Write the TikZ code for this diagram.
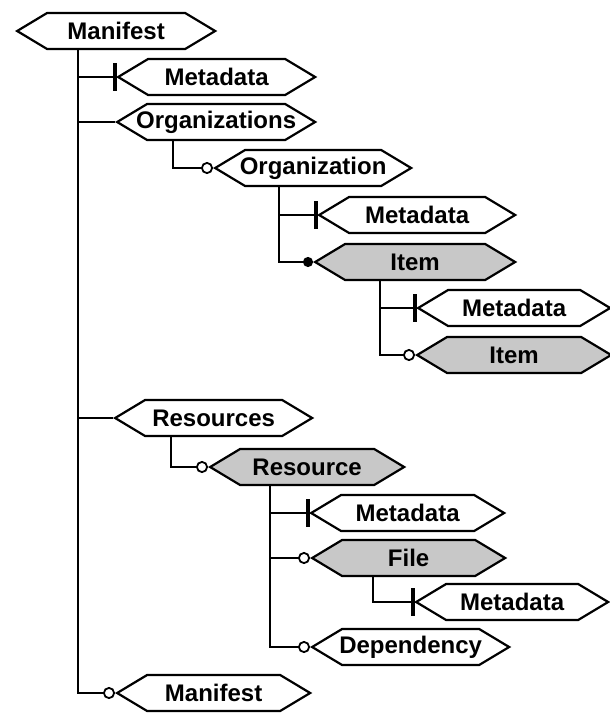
\documentclass[tikz,border=0pt]{standalone}
\usepackage{fontspec}
\setmainfont{Liberation Sans}
\usetikzlibrary{shapes.symbols,arrows.meta}

\definecolor{boxgray}{RGB}{200,200,200}

% label set in a zero-width box so that the outline keeps its given width
\newcommand\lbl[1]{\hbox to 0pt{\hss#1\hss}}

\tikzset{
  elem/.style={shape=signal, signal to=west and east, signal pointer angle=62,
    draw, line width=2.2pt, fill=white, minimum height=36pt, inner sep=0pt,
    anchor=west, font=\bfseries\fontsize{24}{24}\selectfont},
  shaded/.style={elem, fill=boxgray},
  link/.style={line width=2.2pt},
  one/.style={link, -{Bar[width=28pt, line width=4pt]}, shorten >=-1pt},
  opt/.style={link, -{Circle[length=12pt, width=12pt, fill=white, line width=1.8pt]}},
  many/.style={link, -{Circle[length=10pt, width=10pt]}},
}

\begin{document}
\begin{tikzpicture}[x=1pt, y=-1pt]
\useasboundingbox[fill=white] (0,0) rectangle (610,713);

% elements: anchored at their left tip
\node[elem, minimum width=198pt] (root) at (15,31) {\lbl{Manifest}};
\node[elem, minimum width=197pt] (md1) at (116,77) {\lbl{Metadata}};
\node[elem, minimum width=198pt] (orgs) at (115,122) {\lbl{Organizations}};
\node[elem, minimum width=196pt] (org) at (213,168) {\lbl{Organization}};
\node[elem, minimum width=196pt] (md2) at (317,215) {\lbl{Metadata}};
\node[shaded, minimum width=200pt] (item1) at (313,262) {\lbl{Item}};
\node[elem, minimum width=192pt] (md3) at (416,308) {\lbl{Metadata}};
\node[shaded, minimum width=194pt] (item2) at (415,355) {\lbl{Item}};
\node[elem, minimum width=197pt] (res) at (113,418) {\lbl{Resources}};
\node[shaded, minimum width=194pt] (resource) at (208,467) {\lbl{Resource}};
\node[elem, minimum width=193pt] (md4) at (309,513) {\lbl{Metadata}};
\node[shaded, minimum width=193pt] (file) at (310,558) {\lbl{File}};
\node[elem, minimum width=192pt] (md5) at (414,602) {\lbl{Metadata}};
\node[elem, minimum width=197pt] (dep) at (310,647) {\lbl{Dependency}};
\node[elem, minimum width=193pt] (man2) at (115,693) {\lbl{Manifest}};

% trunks hanging below each parent
\coordinate (rootT) at ([xshift=-38pt]root.south);
\coordinate (orgsT) at ([xshift=-43pt]orgs.south);
\coordinate (orgT) at ([xshift=-34pt]org.south);
\coordinate (item1T) at ([xshift=-35pt]item1.south);
\coordinate (resT) at ([xshift=-43pt]res.south);
\coordinate (resourceT) at ([xshift=-37pt]resource.south);
\coordinate (fileT) at ([xshift=-36pt]file.south);

% connectors
\draw[one] (rootT) |- (md1.west);
\draw[link] (rootT) |- (orgs.west);
\draw[link] (rootT) |- (res.west);
\draw[opt] (rootT) |- (man2.west);

\draw[opt] (orgsT) |- (org.west);

\draw[one] (orgT) |- (md2.west);
\draw[many] (orgT) |- (item1.west);

\draw[one] (item1T) |- (md3.west);
\draw[opt] (item1T) |- (item2.west);

\draw[opt] (resT) |- (resource.west);

\draw[one] (resourceT) |- (md4.west);
\draw[opt] (resourceT) |- (file.west);
\draw[opt] (resourceT) |- (dep.west);

\draw[one] (fileT) |- (md5.west);
\end{tikzpicture}
\end{document}
